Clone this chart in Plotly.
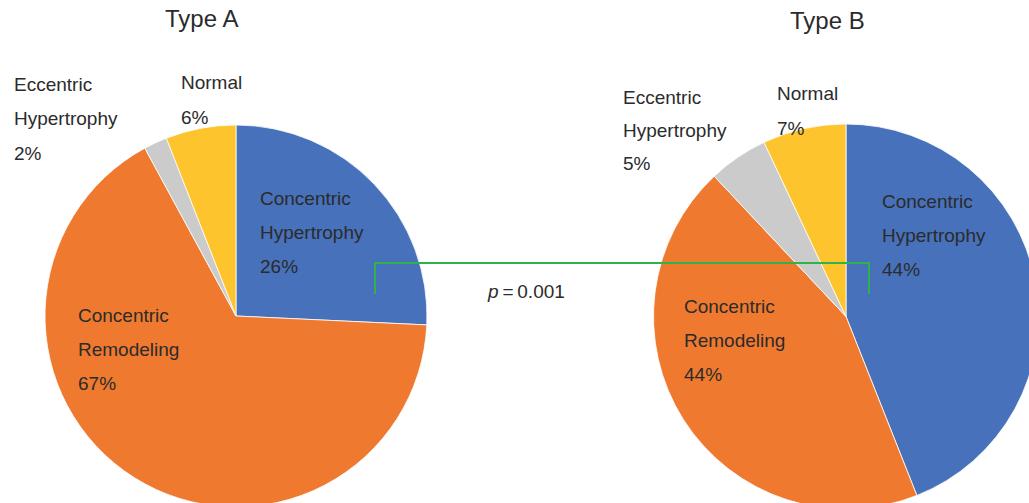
import plotly.graph_objects as go

# ---- data ----
categories = ["Concentric Hypertrophy", "Concentric Remodeling", "Eccentric Hypertrophy", "Normal"]
type_a = [26, 67, 2, 6]
type_b = [44, 44, 5, 7]
titles = ["Type A", "Type B"]
p_value = "0.001"

colors = ["#4771ba", "#ef7a2f", "#cbcbcb", "#fdc42e"]
W, H = 1040, 510
FONT = "Liberation Sans, Arial, sans-serif"
TXT = "#2b2b2b"

def dom(cx, cy, r):
    return dict(x=[(cx - r) / W, (cx + r) / W], y=[1 - (cy + r) / H, 1 - (cy - r) / H])

fig = go.Figure()
for vals, d in [(type_a, dom(236, 316, 191)), (type_b, dom(846, 316.5, 192.5))]:
    fig.add_trace(go.Pie(
        labels=categories, values=vals, sort=False, direction="clockwise", rotation=0,
        marker=dict(colors=colors, line=dict(color="white", width=0.8)),
        textinfo="none", hoverinfo="label+percent", showlegend=False, domain=d,
    ))

# invisible pixel-space axes for annotations / shapes
fig.update_xaxes(range=[0, W], visible=False, fixedrange=True)
fig.update_yaxes(range=[H, 0], visible=False, fixedrange=True)

def label(lines, x, ys):
    for t, y in zip(lines, ys):
        fig.add_annotation(x=x, y=y, text=t, showarrow=False, xanchor="left", yanchor="middle",
                           font=dict(family=FONT, size=19, color=TXT))

def split(name):
    return name.split(" ")

# Type A labels
label(split(categories[0]) + [f"{type_a[0]}%"], 258, [198, 232, 266])
label(split(categories[1]) + [f"{type_a[1]}%"], 76, [315, 349, 383])
label(split(categories[2]) + [f"{type_a[2]}%"], 12, [84, 118, 153])
label(split(categories[3]) + [f"{type_a[3]}%"], 179, [82, 117])
# Type B labels
label(split(categories[0]) + [f"{type_b[0]}%"], 880, [201, 235, 269])
label(split(categories[1]) + [f"{type_b[1]}%"], 682, [306, 340, 374])
label(split(categories[2]) + [f"{type_b[2]}%"], 621, [97, 130, 163])
label(split(categories[3]) + [f"{type_b[3]}%"], 775, [93, 128])

# titles
for t, x, y in [(titles[0], 201, 18), (titles[1], 827, 20)]:
    fig.add_annotation(x=x, y=y, text=t, showarrow=False, xanchor="center", yanchor="middle",
                       font=dict(family=FONT, size=24, color=TXT))

# significance bracket
fig.add_shape(type="path", path="M 375 294 L 375 263 L 869 263 L 869 294",
              line=dict(color="#2db34a", width=2), xref="x", yref="y")
fig.add_annotation(x=526, y=291, text=f"<i>p</i>\u2009=\u2009{p_value}", showarrow=False,
                   xanchor="center", yanchor="middle", font=dict(family=FONT, size=19, color=TXT))

fig.update_layout(width=W, height=H, margin=dict(l=0, r=0, t=0, b=0),
                  paper_bgcolor="white", plot_bgcolor="white")

fig.write_html("out.html", post_script=(
    "document.documentElement.style.overflow='hidden';"
    "document.body.style.overflow='hidden';document.body.style.margin='0';"))
